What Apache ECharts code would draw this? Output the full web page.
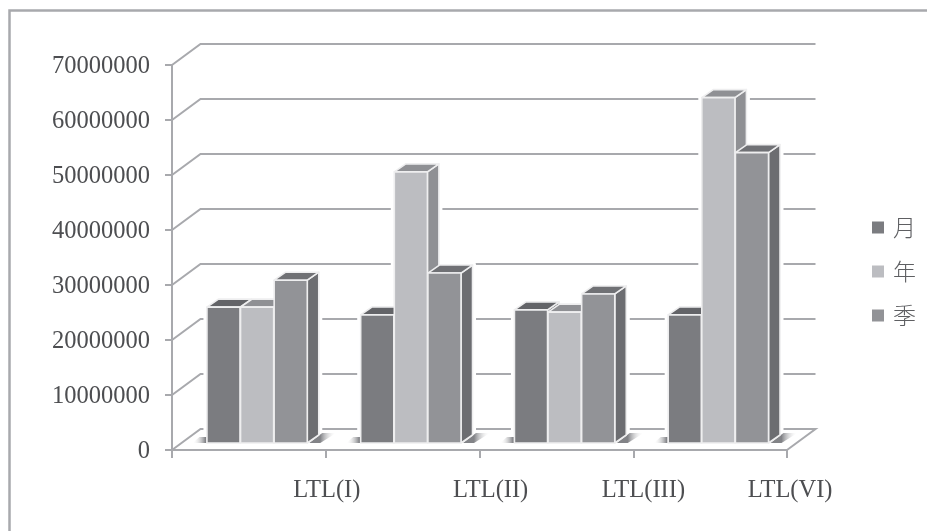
<!DOCTYPE html>
<html>
<head>
<meta charset="utf-8">
<style>
  html, body { margin: 0; padding: 0; background: #fff; }
  #chart { width: 927px; height: 531px; }
</style>
<script src="https://cdn.jsdelivr.net/npm/echarts@6/dist/echarts.min.js"></script>
</head>
<body>
<div id="chart"></div>
<script>
// Loop-level traffic totals per load transfer line
const categories = ['LTL(I)', 'LTL(II)', 'LTL(III)', 'LTL(VI)'];
const monthValues = [24700000, 23300000, 24200000, 23300000];
const yearValues = [24700000, 49300000, 23800000, 62800000];
const seasonValues = [29600000, 30900000, 27100000, 52800000];
const yTicks = [0, 10000000, 20000000, 30000000, 40000000, 50000000, 60000000, 70000000];

// Pseudo-3D projection, in pixels
const WALL_DX = 28.5, WALL_DY = -21;   // front plane to back wall
const BAR_DX = 11.5, BAR_DY = -8;      // bar depth
const FLOOR_LIFT = 7;                  // bars stand slightly behind the front edge
const CLUSTER_START = 0.224, BAR_STEP = 0.2186; // fractions of a category band

const GRID_COLOR = '#a8a9ad';
const EDGE = '#eeeeef';
const TEXT_COLOR = '#4d4e51';

const palette = [
  { name: '月', front: '#7b7c80', top: '#636468', side: '#6a6b6f' },
  { name: '年', front: '#bcbdc1', top: '#8f9094', side: '#8f9094' },
  { name: '季', front: '#929397', top: '#707175', side: '#6c6d71' }
];
const seriesValues = [monthValues, yearValues, seasonValues];

function barGeometry(slot, api) {
  const idx = api.value(0);
  const band = api.size([1, 0])[0];
  const bandStart = api.coord([idx, 0])[0] - band / 2;
  const x0 = bandStart + band * (CLUSTER_START + slot * BAR_STEP) + 0.5;
  return {
    x0: x0,
    x1: x0 + band * BAR_STEP - 0.5,
    yB: api.coord([idx, 0])[1] - FLOOR_LIFT,
    yT: api.coord([idx, api.value(1)])[1] - FLOOR_LIFT
  };
}

function barRenderer(slot) {
  return function (params, api) {
    const g = barGeometry(slot, api);
    const c = palette[slot];
    const line = { stroke: EDGE, lineWidth: 1.6, lineJoin: 'round' };
    return {
      type: 'group',
      children: [
        { type: 'polygon', shape: { points: [[g.x1, g.yT], [g.x1 + BAR_DX, g.yT + BAR_DY], [g.x1 + BAR_DX, g.yB + BAR_DY], [g.x1, g.yB]] },
          style: Object.assign({ fill: c.side }, line) },
        { type: 'polygon', shape: { points: [[g.x0, g.yT], [g.x0 + BAR_DX, g.yT + BAR_DY], [g.x1 + BAR_DX, g.yT + BAR_DY], [g.x1, g.yT]] },
          style: Object.assign({ fill: c.top }, line) },
        { type: 'rect', shape: { x: g.x0, y: g.yT, width: g.x1 - g.x0, height: g.yB - g.yT },
          style: Object.assign({ fill: c.front }, line) }
      ]
    };
  };
}

// White outline that keeps the wall rules clear of each bar
function haloRenderer(slot) {
  return function (params, api) {
    const g = barGeometry(slot, api);
    return {
      type: 'polygon',
      shape: { points: [[g.x0, g.yB], [g.x0, g.yT], [g.x0 + BAR_DX, g.yT + BAR_DY], [g.x1 + BAR_DX, g.yT + BAR_DY], [g.x1 + BAR_DX, g.yB + BAR_DY], [g.x1, g.yB]] },
      style: { fill: '#ffffff', stroke: '#ffffff', lineWidth: 7, lineJoin: 'round' }
    };
  };
}

// Back wall rules with their slanted return to the value axis
function wallRenderer(params, api) {
  const p = api.coord([0, api.value(0)]);
  const band = api.size([1, 0])[0];
  const left = p[0] - band / 2;
  const right = left + band * categories.length;
  const y = p[1];
  const pts = [[left, y], [left + WALL_DX, y + WALL_DY], [right + WALL_DX, y + WALL_DY]];
  if (api.value(0) === 0) pts.push([right, y]);
  return {
    type: 'polyline',
    shape: { points: pts },
    style: { stroke: GRID_COLOR, lineWidth: 2, fill: null }
  };
}

// Soft floor shadows either side of each cluster
function shadowRenderer(params, api) {
  const idx = api.value(0);
  const band = api.size([1, 0])[0];
  const bandStart = api.coord([idx, 0])[0] - band / 2;
  const y = api.coord([idx, 0])[1] - FLOOR_LIFT;
  const xL = bandStart + band * CLUSTER_START;
  const xR = xL + band * BAR_STEP * 3;
  const grad = (x0, x1) => ({
    type: 'linear', x: x0, y: 0, x2: x1, y2: 0, global: true,
    colorStops: [
      { offset: 0, color: 'rgba(130,131,135,1)' },
      { offset: 1, color: 'rgba(255,255,255,0)' }
    ]
  });
  return {
    type: 'group',
    children: [
      { type: 'polygon', shape: { points: [[xL, y], [xL, y - 6], [xL - 7, y - 6], [xL - 14, y]] },
        style: { fill: grad(xL - 1, xL - 14) } },
      { type: 'polygon', shape: { points: [[xR + 2, y], [xR + 15, y - 10], [xR + 29, y - 10], [xR + 13, y]] },
        style: { fill: grad(xR + 13, xR + 29) } }
    ]
  };
}

const haloSeries = palette.map((c, slot) => ({
  name: c.name + '-outline',
  type: 'custom',
  renderItem: haloRenderer(slot),
  encode: { x: 0, y: 1 },
  data: categories.map((cat, i) => [i, seriesValues[slot][i]]),
  z: 2,
  silent: true
}));

const barSeries = palette.map((c, slot) => ({
  name: c.name,
  type: 'custom',
  renderItem: barRenderer(slot),
  encode: { x: 0, y: 1 },
  itemStyle: { color: c.front },
  data: categories.map((cat, i) => [i, seriesValues[slot][i]]),
  z: 5,
  silent: true
}));

// Horizontal shift of each category label from its band centre
const labelShift = [78, 88, 87, 80];
const labelRich = {};
labelShift.forEach((s, i) => {
  labelRich['c' + i] = {
    padding: [0, 0, 0, s * 2],
    fontFamily: 'Liberation Serif',
    fontSize: 24.5,
    color: TEXT_COLOR
  };
});

const chart = echarts.init(document.getElementById('chart'), null, { renderer: 'canvas' });
chart.setOption({
  animation: false,
  backgroundColor: '#ffffff',
  grid: { left: 172, top: 65, width: 615, height: 385, containLabel: false },
  graphic: [{
    type: 'rect',
    silent: true,
    z: 0,
    shape: { x: 9.5, y: 10.5, width: 1000, height: 1000 },
    style: { fill: null, stroke: GRID_COLOR, lineWidth: 2.5 }
  }],
  legend: {
    orient: 'vertical',
    left: 867,
    top: 211,
    itemWidth: 12,
    itemHeight: 12,
    itemGap: 21,
    icon: 'rect',
    data: palette.map(c => c.name),
    selectedMode: false,
    textStyle: { fontFamily: 'Noto Sans CJK SC', fontSize: 23, fontWeight: 300, color: '#5e5f62', padding: [0, 0, 0, 4] }
  },
  xAxis: {
    type: 'category',
    data: categories,
    boundaryGap: true,
    axisLine: { lineStyle: { color: GRID_COLOR, width: 2 } },
    axisTick: { show: true, length: 8, alignWithLabel: false, lineStyle: { color: GRID_COLOR, width: 2 } },
    axisLabel: {
      interval: 0,
      hideOverlap: false,
      margin: 28,
      formatter: (v, i) => '{c' + i + '|' + v + '}',
      rich: labelRich
    },
    splitLine: { show: false }
  },
  yAxis: {
    type: 'value',
    min: 0,
    max: 70000000,
    interval: 10000000,
    axisLine: { show: true, lineStyle: { color: GRID_COLOR, width: 2 } },
    axisTick: { show: true, length: 7, lineStyle: { color: GRID_COLOR, width: 2 } },
    axisLabel: {
      margin: 22,
      formatter: v => '{v|' + v + '}',
      rich: {
        v: { fontFamily: 'Liberation Serif', fontSize: 24.5, color: TEXT_COLOR, padding: [4, 0, 0, 0] }
      }
    },
    splitLine: { show: false }
  },
  series: [
    {
      name: 'wall',
      type: 'custom',
      renderItem: wallRenderer,
      encode: { y: 0 },
      data: yTicks.map(v => [v]),
      z: 1,
      silent: true
    }
  ].concat(haloSeries, [
    {
      name: 'floor',
      type: 'custom',
      renderItem: shadowRenderer,
      encode: { x: 0 },
      data: categories.map((c, i) => [i]),
      z: 3,
      silent: true
    }
  ], barSeries)
});
</script>
</body>
</html>
